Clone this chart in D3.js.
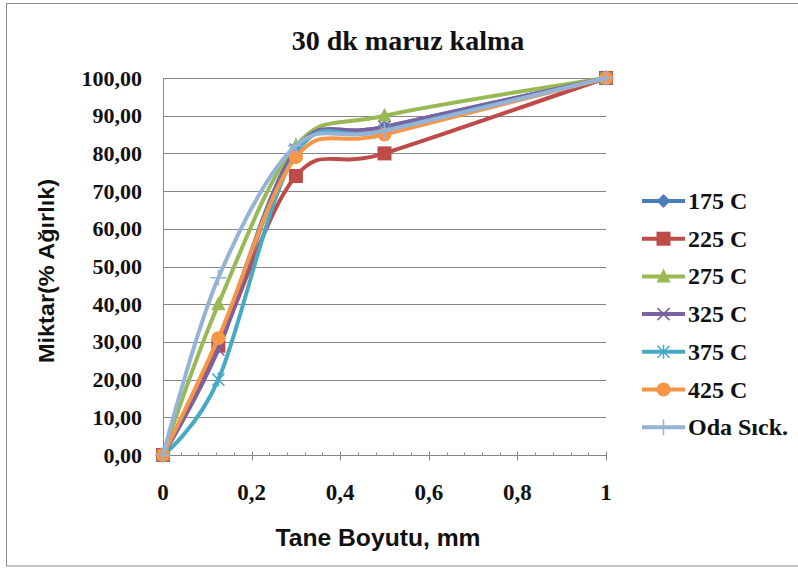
<!DOCTYPE html>
<html>
<head>
<meta charset="utf-8">
<script src="https://cdn.jsdelivr.net/npm/d3@7"></script>
<style>
  html, body { margin: 0; padding: 0; background: #fff; }
  svg { display: block; }
</style>
</head>
<body>
<svg id="chart" width="798" height="569"></svg>
<script>
// Grain size (mm) on the x axis
const sizes = [0, 0.125, 0.3, 0.5, 1];

// Cumulative amount (% by weight) per exposure temperature
const s175 = [0, 30, 81, 87, 100];
const s225 = [0, 29, 74, 80, 100];
const s275 = [0, 40, 82, 90, 100];
const s325 = [0, 28, 81, 87, 100];
const s375 = [0, 20, 80, 86, 100];
const s425 = [0, 31, 79, 85, 100];
const sOda = [0, 47, 82, 86, 100];

const seriesNames = ["175 C", "225 C", "275 C", "325 C", "375 C", "425 C", "Oda Sıck."];
const seriesColors = ["#4A7EBB", "#BE4B48", "#98B954", "#7D60A0", "#46AAC5", "#F79646", "#95B3D7"];
const seriesMarkers = ["diamond", "square", "triangle", "x", "star", "circle", "plus"];
const seriesValues = [s175, s225, s275, s325, s375, s425, sOda];

const xTicks = [0, 0.2, 0.4, 0.6, 0.8, 1];
const xTickLabels = ["0", "0,2", "0,4", "0,6", "0,8", "1"];
const yTicks = [0, 10, 20, 30, 40, 50, 60, 70, 80, 90, 100];
const yTickLabels = ["0,00", "10,00", "20,00", "30,00", "40,00", "50,00", "60,00", "70,00", "80,00", "90,00", "100,00"];

const svg = d3.select("#chart");
const serif = "'Liberation Serif', 'Times New Roman', serif";
const sans = "'Liberation Sans', Arial, sans-serif";

// outer chart frame
svg.append("rect")
  .attr("x", 6.5).attr("y", 3.5)
  .attr("width", 820).attr("height", 562.5)
  .attr("fill", "#fff").attr("stroke", "#8c8c8c").attr("stroke-width", 1);

const plot = { left: 163, right: 606, top: 78, bottom: 455 };
const x = d3.scaleLinear().domain([0, 1]).range([plot.left, plot.right]);
const y = d3.scaleLinear().domain([0, 100]).range([plot.bottom, plot.top]);

// horizontal gridlines
svg.append("g")
  .selectAll("line")
  .data(yTicks.filter(t => t > 0))
  .join("line")
  .attr("x1", plot.left).attr("x2", plot.right)
  .attr("y1", d => Math.round(y(d)) + 0.5).attr("y2", d => Math.round(y(d)) + 0.5)
  .attr("stroke", "#868686").attr("stroke-width", 1);

// y axis line and labels
svg.append("line")
  .attr("x1", plot.left + 0.5).attr("x2", plot.left + 0.5)
  .attr("y1", plot.top).attr("y2", plot.bottom)
  .attr("stroke", "#868686");

svg.append("g")
  .selectAll("text")
  .data(yTicks)
  .join("text")
  .attr("x", 142)
  .attr("y", d => y(d) + 7.5)
  .attr("text-anchor", "end")
  .attr("font-family", serif).attr("font-weight", "bold").attr("font-size", 22)
  .attr("fill", "#111")
  .text((d, i) => yTickLabels[i]);

// x axis with major and minor ticks
const xAxisG = svg.append("g").attr("transform", `translate(0,${plot.bottom + 0.5})`);
xAxisG.append("line")
  .attr("x1", plot.left).attr("x2", plot.right)
  .attr("stroke", "#868686");
const minorTicks = d3.range(0, 1.0001, 0.04).filter(v => Math.abs(v * 5 - Math.round(v * 5)) > 1e-6);
xAxisG.selectAll("line.minor")
  .data(minorTicks)
  .join("line").attr("class", "minor")
  .attr("x1", d => Math.round(x(d)) + 0.5).attr("x2", d => Math.round(x(d)) + 0.5)
  .attr("y1", -3).attr("y2", 0)
  .attr("stroke", "#868686");
xAxisG.selectAll("line.major")
  .data(xTicks)
  .join("line").attr("class", "major")
  .attr("x1", d => Math.round(x(d)) + 0.5).attr("x2", d => Math.round(x(d)) + 0.5)
  .attr("y1", -4).attr("y2", 5)
  .attr("stroke", "#868686");
svg.append("g")
  .selectAll("text")
  .data(xTicks)
  .join("text")
  .attr("x", d => x(d))
  .attr("y", 500)
  .attr("text-anchor", "middle")
  .attr("font-family", serif).attr("font-weight", "bold").attr("font-size", 23)
  .attr("fill", "#111")
  .text((d, i) => xTickLabels[i]);

// titles
svg.append("text")
  .attr("x", 408).attr("y", 50)
  .attr("text-anchor", "middle")
  .attr("font-family", serif).attr("font-weight", "bold").attr("font-size", 28)
  .attr("fill", "#111")
  .text("30 dk maruz kalma");

svg.append("text")
  .attr("x", 378).attr("y", 546)
  .attr("text-anchor", "middle")
  .attr("font-family", sans).attr("font-weight", "bold").attr("font-size", 24)
  .attr("textLength", 205).attr("lengthAdjust", "spacingAndGlyphs")
  .attr("fill", "#111")
  .text("Tane Boyutu, mm");

svg.append("text")
  .attr("transform", "translate(54,271) rotate(-90)")
  .attr("text-anchor", "middle")
  .attr("font-family", sans).attr("font-weight", "bold").attr("font-size", 22)
  .attr("textLength", 184).attr("lengthAdjust", "spacingAndGlyphs")
  .attr("fill", "#111")
  .text("Miktar(% Ağırlık)");

// marker drawing helper
function drawMarker(g, type, color) {
  switch (type) {
    case "diamond":
      g.append("path").attr("d", "M0,-7L7,0L0,7L-7,0Z").attr("fill", color);
      break;
    case "square":
      g.append("rect").attr("x", -7).attr("y", -7).attr("width", 14).attr("height", 14).attr("fill", color);
      break;
    case "triangle":
      g.append("path").attr("d", "M0,-8L7,6L-7,6Z").attr("fill", color);
      break;
    case "x":
      g.append("path").attr("d", "M-6,-6L6,6M-6,6L6,-6").attr("stroke", color).attr("stroke-width", 1.5);
      break;
    case "star":
      g.append("path").attr("d", "M-6,-6L6,6M-6,6L6,-6M0,-7L0,7").attr("stroke", color).attr("stroke-width", 1.5);
      break;
    case "circle":
      g.append("circle").attr("r", 7).attr("fill", color);
      break;
    case "plus":
      g.append("path").attr("d", "M-8,0L8,0M0,-8L0,8").attr("stroke", color).attr("stroke-width", 1.5);
      break;
  }
}

// smoothed series lines with markers
const line = d3.line()
  .x(d => x(d[0]))
  .y(d => y(d[1]))
  .curve(d3.curveCatmullRom.alpha(0));

seriesValues.forEach((vals, si) => {
  const pts = sizes.map((s, i) => [s, vals[i]]);
  const g = svg.append("g");
  g.append("path")
    .attr("d", line(pts))
    .attr("fill", "none")
    .attr("stroke", seriesColors[si])
    .attr("stroke-width", 4)
    .attr("stroke-linejoin", "round")
    .attr("stroke-linecap", "round");
  pts.forEach(p => {
    const mg = g.append("g").attr("transform", `translate(${x(p[0])},${y(p[1])})`);
    drawMarker(mg, seriesMarkers[si], seriesColors[si]);
  });
});

// legend
const legend = svg.append("g");
seriesNames.forEach((name, i) => {
  const yy = 201 + i * 37.7;
  const lg = legend.append("g").attr("transform", `translate(0,${yy})`);
  lg.append("line")
    .attr("x1", 642).attr("x2", 685)
    .attr("stroke", seriesColors[i]).attr("stroke-width", 4);
  const mg = lg.append("g").attr("transform", "translate(663.5,0)");
  drawMarker(mg, seriesMarkers[i], seriesColors[i]);
  lg.append("text")
    .attr("x", 688).attr("y", 8)
    .attr("font-family", serif).attr("font-weight", "bold").attr("font-size", 24)
    .attr("fill", "#111")
    .text(name);
});
</script>
</body>
</html>
